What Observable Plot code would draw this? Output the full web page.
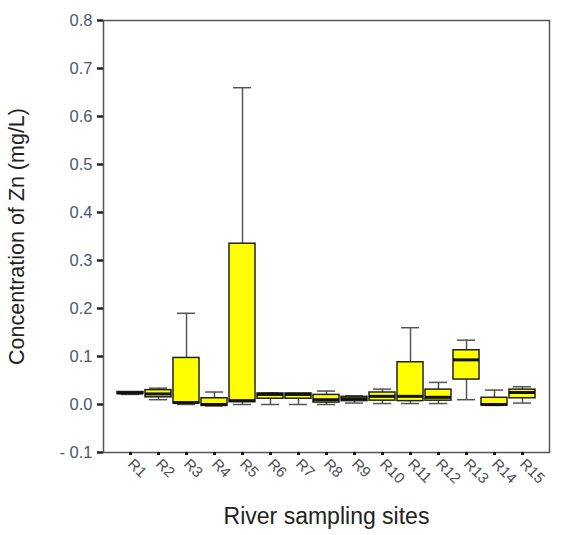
<!DOCTYPE html>
<html>
<head>
<meta charset="utf-8">
<script src="https://cdn.jsdelivr.net/npm/d3@7"></script>
<script src="https://cdn.jsdelivr.net/npm/@observablehq/plot@0.6"></script>
<style>
  html, body { margin: 0; padding: 0; background: #fff; }
  #chart svg { display: block; }
</style>
</head>
<body>
<div id="chart"></div>
<script>
const sites = ["R1","R2","R3","R4","R5","R6","R7","R8","R9","R10","R11","R12","R13","R14","R15"];
const whiskerLow  = [0.021, 0.010, 0.000, -0.003, 0.000, 0.000, 0.000, 0.000, 0.003, 0.002, 0.002, 0.002, 0.010, -0.002, 0.003];
const q1          = [0.022, 0.015, 0.002, -0.003, 0.005, 0.012, 0.012, 0.004, 0.007, 0.008, 0.007, 0.008, 0.052, -0.002, 0.013];
const median      = [0.024, 0.022, 0.004, 0.000, 0.008, 0.021, 0.021, 0.010, 0.012, 0.017, 0.017, 0.015, 0.093, 0.000, 0.025];
const q3          = [0.026, 0.030, 0.097, 0.013, 0.335, 0.023, 0.023, 0.020, 0.016, 0.025, 0.088, 0.031, 0.113, 0.014, 0.031];
const whiskerHigh = [0.026, 0.034, 0.190, 0.026, 0.660, 0.024, 0.023, 0.028, 0.018, 0.032, 0.160, 0.046, 0.134, 0.030, 0.037];
const yTicks = [-0.1, 0, 0.1, 0.2, 0.3, 0.4, 0.5, 0.6, 0.7, 0.8];
const yTickLabels = ["- 0.1", "0.0", "0.1", "0.2", "0.3", "0.4", "0.5", "0.6", "0.7", "0.8"];
const yTitle = "Concentration of Zn (mg/L)";
const xTitle = "River sampling sites";

const rows = sites.map((s, i) => ({
  site: s, lo: whiskerLow[i], q1: q1[i], med: median[i], q3: q3[i], hi: whiskerHigh[i]
}));

const chart = Plot.plot({
  width: 564,
  height: 535,
  marginLeft: 103,
  marginRight: 15,
  marginTop: 20,
  marginBottom: 83,
  style: { fontFamily: "'Liberation Sans', Arial, sans-serif", background: "#fff" },
  x: { domain: sites, paddingInner: 0.08, paddingOuter: 0.365, axis: null },
  y: { domain: [-0.1, 0.8], axis: null },
  marks: [
    Plot.ruleX(rows, { x: "site", y1: "lo", y2: "hi", stroke: "#555", strokeWidth: 1.5 }),
    Plot.tickY(rows, { x: "site", y: "hi", insetLeft: 4, insetRight: 4, stroke: "#555", strokeWidth: 1.5 }),
    Plot.tickY(rows, { x: "site", y: "lo", insetLeft: 4, insetRight: 4, stroke: "#555", strokeWidth: 1.5 }),
    Plot.barY(rows, { x: "site", y1: "q1", y2: "q3", fill: "#ffff00", stroke: "#222", strokeWidth: 1.5 }),
    Plot.tickY(rows, { x: "site", y: "med", stroke: "#111", strokeWidth: 3 }),
    Plot.frame({ stroke: "#555", strokeWidth: 1.5 }),
    Plot.axisY({
      ticks: yTicks,
      tickFormat: d => yTickLabels[yTicks.findIndex(t => Math.abs(t - d) < 1e-9)],
      tickSize: 6, tickPadding: 5, strokeWidth: 2.5, stroke: "#222",
      fill: "#4a5670", fontSize: 16.5, label: null
    }),
    Plot.axisX({
      tickSize: 3, strokeWidth: 3, stroke: "#111", tickRotate: 45, tickPadding: 6,
      fill: "#4d4d55", fontSize: 15, label: null
    }),
    Plot.text([yTitle], { frameAnchor: "left", textAnchor: "middle", dx: -86, rotate: -90, fontSize: 21.5, fill: "#222" }),
    Plot.text([xTitle], { frameAnchor: "bottom", dy: 71, fontSize: 23, fill: "#222" })
  ]
});
document.getElementById("chart").appendChild(chart);
</script>
</body>
</html>
